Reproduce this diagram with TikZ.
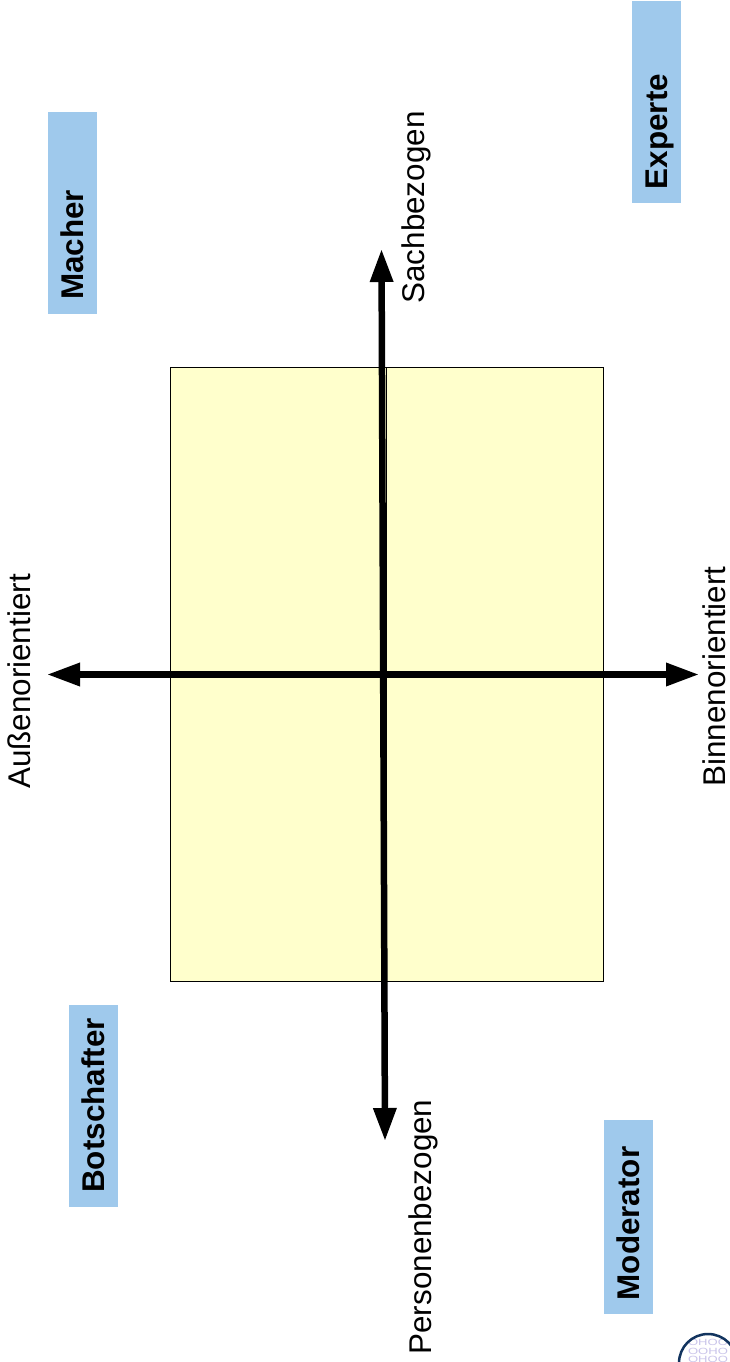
\documentclass[tikz,border=0pt]{standalone}
\usepackage{fontspec}
\setmainfont{Liberation Sans}
\usetikzlibrary{arrows.meta}
\definecolor{boxblue}{HTML}{9FC9EC}
\definecolor{areayellow}{HTML}{FFFFCC}
\definecolor{logoblue}{HTML}{12345F}
\definecolor{logotext}{HTML}{C9C4EA}
\tikzset{
  x=1pt,y=-1pt,
  rolebox/.style={fill=boxblue,draw=none,minimum width=202pt,minimum height=49pt,inner sep=0pt,rotate=90,anchor=center},
  rolelabel/.style={rotate=90,font=\bfseries\fontsize{31.4}{31.4}\selectfont,inner sep=0pt,anchor=center},
  axislabel/.style={rotate=90,font=\fontsize{31.4}{31.4}\selectfont,inner sep=0pt,anchor=center},
  axisline/.style={line width=6.5pt,{Triangle[length=33pt,width=22pt]}-{Triangle[length=33pt,width=22pt]}},
  area/.style={fill=areayellow,draw=black,line width=0.6pt},
  logorow/.style={font=\fontsize{9}{9}\selectfont,text=logotext,inner sep=0pt,xscale=1.45},
}
\begin{document}
\begin{tikzpicture}
\useasboundingbox (0,0) rectangle (730,1362);
\fill[white] (0,0) rectangle (730,1362);
\draw[area] (170,367) rectangle (386.5,981);
\draw[area] (386.5,367) rectangle (603,981);
\coordinate (top) at (381.5,249);
\coordinate (bottom) at (385,1141);
\coordinate (left) at (47,674.5);
\coordinate (right) at (699,674.5);
\draw[axisline] (top) -- (bottom);
\draw[axisline] (left) -- (right);
\node[rolebox] (experteBox) at (656,102) {};
\node[rolebox] (macherBox) at (72.5,213) {};
\node[rolebox] (botschafterBox) at (93.5,1106) {};
\node[rolebox,minimum width=194pt] (moderatorBox) at (628.5,1217) {};
\node[rolelabel] (experte) at (659.5,131.5) {Experte};
\node[rolelabel] (macher) at (72.5,245) {Macher};
\node[rolelabel] (botschafter) at (93.5,1105.5) {Botschafter};
\node[rolelabel] (moderator) at (628,1223.5) {Moderator};
\node[axislabel] (sach) at (416,207.5) {Sachbezogen};
\node[axislabel] (person) at (423,1227) {Personenbezogen};
\node[axislabel] (aussen) at (19.5,681.5) {Außenorientiert};
\node[axislabel] (binnen) at (714.5,676.5) {Binnenorientiert};
\begin{scope}
\clip (708,1363) circle (29pt);
\node[logorow] (logotxt1) at (708,1342.5) {OHOO};
\node[logorow] (logotxt2) at (708,1351) {OOHO};
\node[logorow] (logotxt3) at (708,1359.5) {OHOO};
\end{scope}
\begin{scope}
\clip (0,0) rectangle (730,1362);
\draw[draw=logoblue,line width=2.5pt] (708,1363) circle (29pt);
\end{scope}
\end{tikzpicture}
\end{document}
